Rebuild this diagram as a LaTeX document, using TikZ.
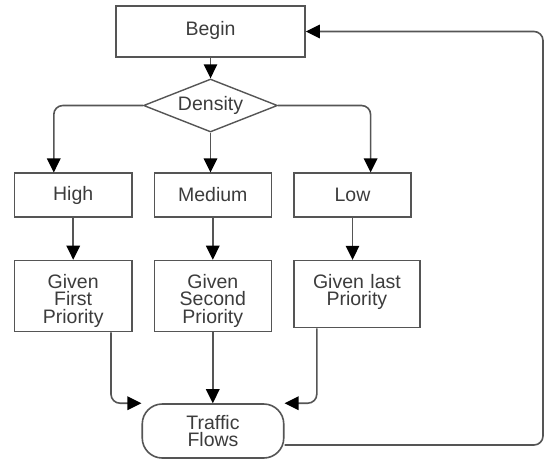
\documentclass[tikz,border=0pt]{standalone}
\usepackage{fontspec}
\setmainfont{Liberation Sans}
\usetikzlibrary{arrows.meta,shapes.geometric}
\definecolor{linec}{RGB}{85,85,85}
\definecolor{txtc}{RGB}{60,60,60}
\begin{document}
\begin{tikzpicture}[x=1pt,y=-1pt,
  every node/.style={font=\fontsize{19.5}{17.6}\selectfont, text=txtc},
  box/.style={draw=linec, line width=1.6pt, rectangle, inner sep=0pt},
  topbox/.style={box, align=center, text width=112pt, text height=27.6pt},
  arr/.style={draw=linec, line width=1.6pt, -{Triangle[length=14pt,width=13.5pt,color=black]}, rounded corners=9pt},
]
\useasboundingbox (0,0) rectangle (544,459);
\fill[white] (0,0) rectangle (544,459);
% nodes
\node[box, minimum width=189pt, minimum height=51pt, text depth=7pt] (begin) at (210.5,31.5) {Begin};
\node[diamond, draw=linec, line width=1.4pt, minimum width=134pt, minimum height=53pt, inner sep=0pt, aspect=2.5] (dens) at (210.5,105.5) {Density};
\node[box, minimum width=117.3pt, minimum height=43.5pt] (high) at (73.2,195) {High};
\node[box, minimum width=117pt, minimum height=43.5pt] (med) at (212.8,195) {Medium};
\node[box, minimum width=117.3pt, minimum height=43.5pt] (low) at (352.5,195) {Low};
\node[topbox, minimum width=117.3pt, text depth=43.4pt] (first) at (73.2,296) {Given\\First\\Priority};
\node[topbox, minimum width=117pt, text depth=43.4pt] (second) at (212.8,296) {Given\\Second\\Priority};
\node[topbox, text width=120pt, minimum width=126pt, text depth=39.4pt] (last) at (356.9,294.1) {Given last\\Priority};
\node[draw=linec, line width=1.6pt, rounded corners=20pt, minimum width=141.5pt, minimum height=54pt, inner sep=0pt, align=center] (tf) at (213,431) {Traffic\\Flows};
\coordinate (rc) at (543,200);
% connectors
\draw[arr] (begin.south) -- (dens.north);
\draw[arr] (dens.west) -| ([xshift=-19.4pt]high.north);
\draw[arr] (dens.south) -- (dens.south |- med.north);
\draw[arr] (dens.east) -| ([xshift=18.1pt]low.north);
\draw[arr] (high) -- (first);
\draw[arr] (med.south) -- (med.south |- second.north);
\draw[arr] (low.south) -- (low.south |- last.north);
\draw[arr] ([xshift=37.8pt]first.south) |- (tf.north west);
\draw[arr] (second.south) -- (second.south |- tf.north);
\draw[arr] ([xshift=-40.1pt]last.south) |- (tf.north east);
\draw[arr] ([yshift=-14pt]tf.east) -| (rc) |- (begin.east);
\end{tikzpicture}
\end{document}
